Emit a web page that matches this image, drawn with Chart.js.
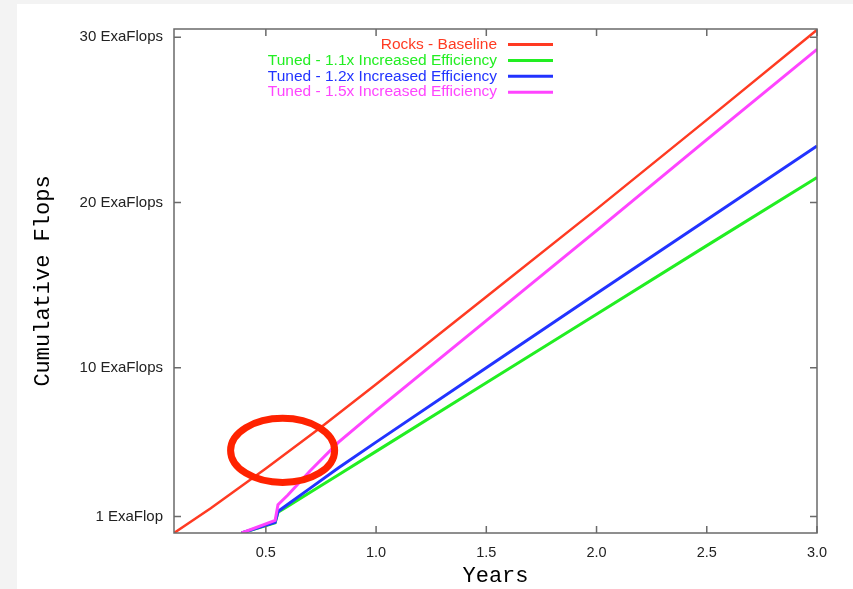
<!DOCTYPE html>
<html>
<head>
<meta charset="utf-8">
<script src="https://cdn.jsdelivr.net/npm/chart.js@4.4.1/dist/chart.umd.min.js"></script>
<style>
  html, body { margin: 0; padding: 0; background: #ffffff; }
  #wrap { width: 853px; height: 589px; }
</style>
</head>
<body>
<div id="wrap"><canvas id="c" width="853" height="589"></canvas></div>
<script>
// ---- data ----
const seriesNames = [
  'Rocks - Baseline',
  'Tuned - 1.1x Increased Efficiency',
  'Tuned - 1.2x Increased Efficiency',
  'Tuned - 1.5x Increased Efficiency'
];
const seriesColors = ['#ff3a22', '#22ee22', '#2233ff', '#ff44ff'];

const baselineYears = [0.0833, 0.25, 0.5, 0.75, 1.0, 1.5, 2.0, 2.5, 3.0];
const baselineFlops = [0, 1.5, 3.9, 6.4, 9.0, 14.3, 19.6, 25.0, 30.45];

const tunedYears = [0.39, 0.542, 0.555, 0.6, 0.7, 0.83, 1.0, 1.5, 2.0, 2.5, 3.0];
const tuned11Flops = [0, 0.62, 1.25, 1.62, 2.45, 3.53, 4.94, 9.09, 13.24, 17.39, 21.51];
const tuned12Flops = [0, 0.64, 1.30, 1.74, 2.70, 3.95, 5.50, 10.0, 14.5, 18.95, 23.42];
const tuned15Flops = [0, 0.76, 1.71, 2.30, 3.75, 5.50, 7.40, 12.85, 18.3, 23.8, 29.27];

const xTickValues = [0.5, 1.0, 1.5, 2.0, 2.5, 3.0];
const xTickLabels = ['0.5', '1.0', '1.5', '2.0', '2.5', '3.0'];
const yTickValues = [1, 10, 20, 30];
const yTickLabels = ['1 ExaFlop', '10 ExaFlops', '20 ExaFlops', '30 ExaFlops'];

// highlighted region (ellipse annotation) in data units
const highlightCenter = [0.576, 5.0];
const highlightRadius = [0.236, 1.94];

function pts(xs, ys) { return xs.map((x, i) => ({ x: x, y: ys[i] })); }

const datasets = [
  { label: seriesNames[0], data: pts(baselineYears, baselineFlops), borderColor: seriesColors[0], borderWidth: 2.5, order: 4 },
  { label: seriesNames[1], data: pts(tunedYears, tuned11Flops), borderColor: seriesColors[1], borderWidth: 3, order: 3 },
  { label: seriesNames[2], data: pts(tunedYears, tuned12Flops), borderColor: seriesColors[2], borderWidth: 3, order: 2 },
  { label: seriesNames[3], data: pts(tunedYears, tuned15Flops), borderColor: seriesColors[3], borderWidth: 3, order: 1 }
].map(d => Object.assign(d, { pointRadius: 0, tension: 0, fill: false, backgroundColor: d.borderColor }));

const bgPlugin = {
  id: 'bg',
  beforeDraw(chart) {
    const ctx = chart.ctx;
    ctx.save();
    ctx.fillStyle = '#f3f3f3';
    ctx.fillRect(0, 0, chart.width, chart.height);
    ctx.fillStyle = '#ffffff';
    ctx.fillRect(17, 4, chart.width - 17, chart.height - 4);
    ctx.restore();
  }
};

const framePlugin = {
  id: 'frame',
  afterDatasetsDraw(chart) {
    const { ctx, chartArea: a, scales } = chart;
    ctx.save();
    ctx.strokeStyle = '#6a6a6a';
    ctx.lineWidth = 1.5;
    ctx.strokeRect(a.left, a.top, a.right - a.left, a.bottom - a.top);
    const tl = 7;
    ctx.beginPath();
    xTickValues.forEach(v => {
      const px = scales.x.getPixelForValue(v);
      ctx.moveTo(px, a.bottom); ctx.lineTo(px, a.bottom - tl);
      ctx.moveTo(px, a.top); ctx.lineTo(px, a.top + tl);
    });
    yTickValues.forEach(v => {
      const py = scales.y.getPixelForValue(v);
      ctx.moveTo(a.left, py); ctx.lineTo(a.left + tl, py);
      ctx.moveTo(a.right, py); ctx.lineTo(a.right - tl, py);
    });
    ctx.stroke();
    ctx.restore();
  },
  afterDraw(chart) {
    const { ctx, scales } = chart;
    ctx.save();
    // legend (text right-aligned, sample line to the right)
    ctx.font = '15.5px "Liberation Sans", Arial, sans-serif';
    ctx.textAlign = 'right';
    ctx.textBaseline = 'middle';
    chart.data.datasets.forEach((d, i) => {
      const y = 44.5 + i * 15.9;
      ctx.fillStyle = d.borderColor;
      ctx.fillText(d.label, 497, y);
      ctx.strokeStyle = d.borderColor;
      ctx.lineWidth = 3;
      ctx.beginPath();
      ctx.moveTo(508, y); ctx.lineTo(553, y);
      ctx.stroke();
    });
    // highlight ellipse
    const cx = scales.x.getPixelForValue(highlightCenter[0]);
    const cy = scales.y.getPixelForValue(highlightCenter[1]);
    const rx = scales.x.getPixelForValue(highlightCenter[0] + highlightRadius[0]) - cx;
    const ry = cy - scales.y.getPixelForValue(highlightCenter[1] + highlightRadius[1]);
    ctx.strokeStyle = '#ff2200';
    ctx.lineWidth = 7;
    ctx.beginPath();
    ctx.ellipse(cx, cy, rx, ry, 0, 0, Math.PI * 2);
    ctx.stroke();
    ctx.restore();
  }
};

new Chart(document.getElementById('c'), {
  type: 'line',
  data: { datasets: datasets },
  options: {
    responsive: false,
    animation: false,
    layout: { padding: { left: 0, right: 36, top: 29, bottom: 0 } },
    plugins: { legend: { display: false }, tooltip: { enabled: false } },
    scales: {
      x: {
        type: 'linear',
        min: 1 / 12,
        max: 3,
        grid: { display: false, drawTicks: false },
        border: { display: false },
        afterBuildTicks: s => { s.ticks = xTickValues.map(v => ({ value: v })); },
        afterFit: s => { s.height = 56; },
        ticks: {
          padding: 11,
          color: '#222',
          font: { family: '"Liberation Sans", Arial, sans-serif', size: 14.5 },
          maxRotation: 0,
          autoSkip: false,
          callback: (v) => xTickLabels[xTickValues.indexOf(v)]
        },
        title: {
          display: true,
          text: 'Years',
          color: '#000',
          padding: { top: 0, bottom: 0 },
          font: { family: '"Liberation Mono", "Courier New", monospace', size: 22 }
        }
      },
      y: {
        type: 'linear',
        min: 0,
        max: 30.5,
        grid: { display: false, drawTicks: false },
        border: { display: false },
        afterBuildTicks: s => { s.ticks = yTickValues.map(v => ({ value: v })); },
        afterFit: s => { s.width = 174; },
        ticks: {
          padding: 11,
          color: '#222',
          font: { family: '"Liberation Sans", Arial, sans-serif', size: 15 },
          autoSkip: false,
          callback: (v) => yTickLabels[yTickValues.indexOf(v)]
        },
        title: {
          display: true,
          text: 'Cumulative Flops',
          color: '#000',
          padding: { top: 30, bottom: 0 },
          font: { family: '"Liberation Mono", "Courier New", monospace', size: 22 }
        }
      }
    }
  },
  plugins: [bgPlugin, framePlugin]
});
</script>
</body>
</html>
